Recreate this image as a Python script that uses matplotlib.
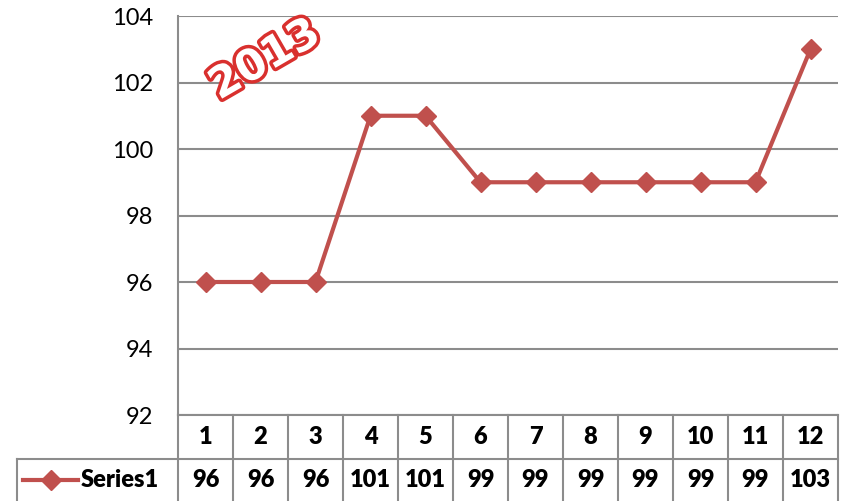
import matplotlib
matplotlib.use("Agg")
import matplotlib.pyplot as plt
import matplotlib.transforms as mtrans
import matplotlib.patheffects as pe
from matplotlib.lines import Line2D

categories = ["1", "2", "3", "4", "5", "6", "7", "8", "9", "10", "11", "12"]
values = [96, 96, 96, 101, 101, 99, 99, 99, 99, 99, 99, 103]
series_name = "Series1"
yticks = [92, 94, 96, 98, 100, 102, 104]
title_text = "2013"

W, H = 852, 501
fig = plt.figure(figsize=(W / 100, H / 100), dpi=100)
plt.rcParams['font.family'] = ['Lato', 'DejaVu Sans']

L, R, T, B = 178, 838, 16, 415
ax = fig.add_axes([L / W, (H - B) / H, (R - L) / W, (B - T) / H])
red = "#C0504D"
grid = "#8C8C8C"

x = list(range(1, len(values) + 1))
ax.plot(x, values, color=red, lw=3, marker="D", ms=10, mec=red, mfc=red, zorder=3, clip_on=False)
ax.set_xlim(0.5, len(values) + 0.5)
ax.set_ylim(92, 104)
ax.set_yticks(yticks)
ax.set_yticklabels([str(v) for v in yticks], fontsize=17)
ax.tick_params(axis="y", length=0, pad=18)
ax.set_xticks([])
for s in ["top", "right", "bottom"]:
    ax.spines[s].set_visible(False)
ax.spines["left"].set_color(grid)
ax.spines["left"].set_linewidth(1.5)
for v in yticks:
    ax.axhline(v, color=grid, lw=1.5, zorder=1)

# data table
tr = mtrans.blended_transform_factory(ax.transData, ax.transAxes)
ph = B - T
r1 = -44 / ph
r2 = -86 / ph
kw = dict(color=grid, lw=1.5, clip_on=False)
for i in range(len(values) + 1):
    ax.add_line(Line2D([0.5 + i, 0.5 + i], [0, r2], transform=tr, **kw))
ax.add_line(Line2D([0.5, len(values) + 0.5], [0, 0], transform=tr, **kw))
left_px = 17
ax.add_line(Line2D([(left_px - L) / (R - L), 1], [r1, r1], transform=ax.transAxes, **kw))
ax.add_line(Line2D([(left_px - L) / (R - L)] * 2, [r1, r2], transform=ax.transAxes, **kw))
tkw = dict(ha="center", va="center", fontsize=17, fontweight="heavy")
for i, (c, v) in enumerate(zip(categories, values)):
    ax.text(i + 1, r1 / 2, c, transform=tr, **tkw)
    ax.text(i + 1, (r1 + r2) / 2, str(v), transform=tr, **tkw)
ym = (r1 + r2) / 2
ax.add_line(Line2D([(23 - L) / (R - L), (78 - L) / (R - L)], [ym, ym], transform=ax.transAxes,
                   color=red, lw=3, clip_on=False))
ax.add_line(Line2D([(50.5 - L) / (R - L)], [ym], transform=ax.transAxes, color=red, marker="D",
                   ms=10, mec=red, mfc=red, clip_on=False))
ax.text((81 - L) / (R - L), ym, series_name, transform=ax.transAxes, ha="left", va="center",
        fontsize=17, fontweight="heavy")

ax.text((265 - L) / (R - L), (B - 60) / ph, title_text, transform=ax.transAxes, ha="center", va="center",
        fontsize=31, fontweight="bold", rotation=30, color="white", family="DejaVu Sans",
        path_effects=[pe.Stroke(linewidth=5, foreground="#D9302E"), pe.Normal()], zorder=5)

fig.savefig("out.png", dpi=100)
